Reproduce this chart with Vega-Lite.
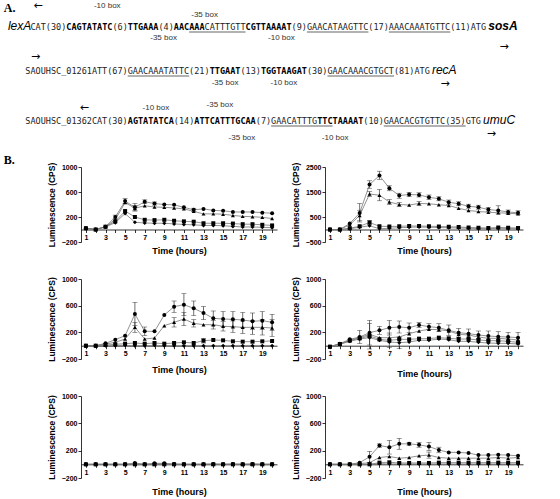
{
 "$schema": "https://vega.github.io/schema/vega-lite/v6.json",
 "padding": {"left": 3, "top": 0, "right": 5, "bottom": 0},
 "background": "white",
 "config": {
  "view": {"stroke": null},
  "font": "Liberation Sans",
  "axis": {"grid": false, "domainColor": "#000", "tickColor": "#000", "labelColor": "#000", "titleColor": "#000", "labelFont": "Liberation Sans", "titleFont": "Liberation Sans", "labelFontSize": 7, "labelFontWeight": "bold", "titleFontSize": 9, "titleFontWeight": "bold", "tickSize": 3, "labelPadding": 1, "domainWidth": 0.8, "tickWidth": 0.8},
  "axisY": {"titleFontSize": 8.5, "titlePadding": 5, "format": "d"},
  "axisX": {"labelOverlap": false, "labelFlush": false}
 },
 "datasets": {
  "seq": [
   {"k":"h","c":-1.2,"r":0.8,"txt":"A."},
   {"k":"h","c":-1.2,"r":16.0,"txt":"B."},
   {"k":"a","c":5.5,"r":0.6,"txt":"←"},
   {"k":"a","c":96.5,"r":4.7,"txt":"→"},
   {"k":"a","c":5,"r":5.7,"txt":"→"},
   {"k":"a","c":85,"r":8.4,"txt":"→"},
   {"k":"a","c":14.5,"r":10.8,"txt":"←"},
   {"k":"a","c":94,"r":13.4,"txt":"→"},
   {"k":"l","c":19,"r":0.6,"txt":"-10 box"},
   {"k":"l","c":38,"r":1.5,"txt":"-35 box"},
   {"k":"l","c":30,"r":3.75,"txt":"-35 box"},
   {"k":"l","c":53,"r":3.75,"txt":"-10 box"},
   {"k":"l","c":42,"r":8.3,"txt":"-35 box"},
   {"k":"l","c":53.5,"r":8.3,"txt":"-10 box"},
   {"k":"l","c":28.5,"r":10.8,"txt":"-10 box"},
   {"k":"l","c":41,"r":10.5,"txt":"-35 box"},
   {"k":"l","c":45.3,"r":13.8,"txt":"-35 box"},
   {"k":"l","c":63.5,"r":13.8,"txt":"-10 box"},
   {"k":"g","c":-0.4,"r":3.0,"txt":"lexA"},
   {"k":"n","c":4,"r":3.0,"txt":"CAT(30)"},
   {"k":"b","c":11,"r":3.0,"txt":"CAGTATATC"},
   {"k":"n","c":20,"r":3.0,"txt":"(6)"},
   {"k":"b","c":23,"r":3.0,"txt":"TTGAAA"},
   {"k":"n","c":29,"r":3.0,"txt":"(4)"},
   {"k":"b","c":32,"r":3.0,"txt":"AACAAA"},
   {"k":"n","c":38,"r":3.0,"txt":"CATTTGTT"},
   {"k":"b","c":46,"r":3.0,"txt":"CGTTAAAAT"},
   {"k":"n","c":55,"r":3.0,"txt":"(9)GAACATAAGTTC(17)AAACAAATGTTC(11)ATG"},
   {"k":"gb","c":93.4,"r":3.0,"txt":"sosA"},
   {"k":"u","c":35,"c2":46,"r":3.0},
   {"k":"u","c":58,"c2":70,"r":3.0},
   {"k":"u","c":74,"c2":86,"r":3.0},
   {"k":"n","c":3,"r":7.4,"txt":"SAOUHSC_01261ATT(67)GAACAAATATTC(21)"},
   {"k":"b","c":39,"r":7.4,"txt":"TTGAAT"},
   {"k":"n","c":45,"r":7.4,"txt":"(13)"},
   {"k":"b","c":49,"r":7.4,"txt":"TGGTAAGAT"},
   {"k":"n","c":58,"r":7.4,"txt":"(30)GAACAAACGTGCT(81)ATG"},
   {"k":"g","c":82.4,"r":7.4,"txt":"recA"},
   {"k":"u","c":23,"c2":35,"r":7.4},
   {"k":"u","c":62,"c2":75,"r":7.4},
   {"k":"n","c":3,"r":12.4,"txt":"SAOUHSC_01362CAT(30)"},
   {"k":"b","c":23,"r":12.4,"txt":"AGTATATCA"},
   {"k":"n","c":32,"r":12.4,"txt":"(14)"},
   {"k":"b","c":36,"r":12.4,"txt":"ATTCATTTGCAA"},
   {"k":"n","c":48,"r":12.4,"txt":"(7)GAACATTTG"},
   {"k":"b","c":60,"r":12.4,"txt":"TTCTAAAAT"},
   {"k":"n","c":69,"r":12.4,"txt":"(10)GAACACGTGTTC(35)GTG"},
   {"k":"g","c":92.4,"r":12.4,"txt":"umuC"},
   {"k":"u","c":51,"c2":63,"r":12.4},
   {"k":"u","c":73,"c2":89,"r":12.4}
  ],
  "d": [
   {"p":"lexA","t":1,"a":20,"b":20,"c":20,"d":20},
   {"p":"lexA","t":2,"a":0,"b":0,"c":0,"d":0},
   {"p":"lexA","t":3,"a":45,"b":45,"c":45,"d":40},
   {"p":"lexA","t":4,"a":200,"b":160,"c":130,"d":110},
   {"p":"lexA","t":5,"a":455,"b":430,"c":295,"d":255},
   {"p":"lexA","t":6,"a":355,"b":340,"c":200,"d":115},
   {"p":"lexA","t":7,"a":445,"b":380,"c":155,"d":105},
   {"p":"lexA","t":8,"a":415,"b":360,"c":150,"d":100},
   {"p":"lexA","t":9,"a":400,"b":355,"c":155,"d":100},
   {"p":"lexA","t":10,"a":395,"b":345,"c":140,"d":90},
   {"p":"lexA","t":11,"a":355,"b":330,"c":130,"d":80},
   {"p":"lexA","t":12,"a":315,"b":290,"c":125,"d":75},
   {"p":"lexA","t":13,"a":330,"b":250,"c":100,"d":65},
   {"p":"lexA","t":14,"a":305,"b":250,"c":100,"d":65},
   {"p":"lexA","t":15,"a":300,"b":245,"c":100,"d":60},
   {"p":"lexA","t":16,"a":280,"b":225,"c":95,"d":50},
   {"p":"lexA","t":17,"a":280,"b":210,"c":85,"d":40},
   {"p":"lexA","t":18,"a":280,"b":205,"c":85,"d":40},
   {"p":"lexA","t":19,"a":270,"b":195,"c":75,"d":35},
   {"p":"lexA","t":20,"a":260,"b":175,"c":65,"d":30},
   {"p":"recA","t":1,"a":0,"b":0,"c":0,"d":0},
   {"p":"recA","t":2,"a":0,"b":0,"c":0,"d":0},
   {"p":"recA","t":3,"a":240,"b":190,"c":50,"d":30},
   {"p":"recA","t":4,"a":660,"b":560,"c":130,"d":90},
   {"p":"recA","t":5,"a":1800,"b":1420,"c":280,"d":150},
   {"p":"recA","t":6,"a":2160,"b":1370,"c":130,"d":30},
   {"p":"recA","t":7,"a":1650,"b":1100,"c":120,"d":50},
   {"p":"recA","t":8,"a":1360,"b":1000,"c":130,"d":70},
   {"p":"recA","t":9,"a":1400,"b":980,"c":140,"d":90},
   {"p":"recA","t":10,"a":1385,"b":1040,"c":140,"d":100},
   {"p":"recA","t":11,"a":1290,"b":1030,"c":130,"d":90},
   {"p":"recA","t":12,"a":1230,"b":990,"c":120,"d":80},
   {"p":"recA","t":13,"a":1090,"b":960,"c":110,"d":70},
   {"p":"recA","t":14,"a":1030,"b":850,"c":100,"d":60},
   {"p":"recA","t":15,"a":930,"b":760,"c":80,"d":50},
   {"p":"recA","t":16,"a":890,"b":720,"c":70,"d":40},
   {"p":"recA","t":17,"a":800,"b":690,"c":60,"d":30},
   {"p":"recA","t":18,"a":760,"b":670,"c":80,"d":50},
   {"p":"recA","t":19,"a":700,"b":650,"c":70,"d":40},
   {"p":"recA","t":20,"a":670,"b":630,"c":60,"d":30},
   {"p":"sosA","t":1,"a":0,"b":0,"c":0,"d":0},
   {"p":"sosA","t":2,"a":0,"b":0,"c":0,"d":0},
   {"p":"sosA","t":3,"a":35,"b":25,"c":10,"d":0},
   {"p":"sosA","t":4,"a":90,"b":50,"c":20,"d":0},
   {"p":"sosA","t":5,"a":150,"b":100,"c":30,"d":5},
   {"p":"sosA","t":6,"a":475,"b":275,"c":40,"d":0},
   {"p":"sosA","t":7,"a":215,"b":100,"c":30,"d":0},
   {"p":"sosA","t":8,"a":215,"b":115,"c":40,"d":5},
   {"p":"sosA","t":9,"a":460,"b":300,"c":30,"d":0},
   {"p":"sosA","t":10,"a":585,"b":350,"c":40,"d":0},
   {"p":"sosA","t":11,"a":615,"b":400,"c":50,"d":0},
   {"p":"sosA","t":12,"a":560,"b":335,"c":40,"d":0},
   {"p":"sosA","t":13,"a":490,"b":315,"c":75,"d":0},
   {"p":"sosA","t":14,"a":410,"b":315,"c":85,"d":0},
   {"p":"sosA","t":15,"a":400,"b":290,"c":80,"d":0},
   {"p":"sosA","t":16,"a":395,"b":285,"c":65,"d":0},
   {"p":"sosA","t":17,"a":385,"b":275,"c":60,"d":0},
   {"p":"sosA","t":18,"a":365,"b":275,"c":60,"d":0},
   {"p":"sosA","t":19,"a":375,"b":275,"c":65,"d":0},
   {"p":"sosA","t":20,"a":350,"b":265,"c":70,"d":0},
   {"p":"recF","t":1,"a":-15,"b":-15,"c":-15,"d":-15},
   {"p":"recF","t":2,"a":30,"b":25,"c":25,"d":20},
   {"p":"recF","t":3,"a":95,"b":80,"c":75,"d":65},
   {"p":"recF","t":4,"a":130,"b":120,"c":110,"d":100},
   {"p":"recF","t":5,"a":195,"b":170,"c":145,"d":120},
   {"p":"recF","t":6,"a":230,"b":120,"c":95,"d":80},
   {"p":"recF","t":7,"a":270,"b":120,"c":80,"d":55},
   {"p":"recF","t":8,"a":280,"b":130,"c":95,"d":45},
   {"p":"recF","t":9,"a":270,"b":180,"c":95,"d":55},
   {"p":"recF","t":10,"a":310,"b":220,"c":105,"d":80},
   {"p":"recF","t":11,"a":285,"b":245,"c":105,"d":80},
   {"p":"recF","t":12,"a":270,"b":240,"c":120,"d":100},
   {"p":"recF","t":13,"a":230,"b":220,"c":110,"d":90},
   {"p":"recF","t":14,"a":195,"b":170,"c":100,"d":65},
   {"p":"recF","t":15,"a":180,"b":160,"c":100,"d":65},
   {"p":"recF","t":16,"a":160,"b":130,"c":85,"d":50},
   {"p":"recF","t":17,"a":145,"b":110,"c":75,"d":40},
   {"p":"recF","t":18,"a":135,"b":110,"c":75,"d":35},
   {"p":"recF","t":19,"a":130,"b":100,"c":65,"d":35},
   {"p":"recF","t":20,"a":120,"b":85,"c":50,"d":25},
   {"p":"dinB","t":1,"a":0,"b":0,"c":0,"d":0},
   {"p":"dinB","t":2,"a":0,"b":0,"c":0,"d":0},
   {"p":"dinB","t":3,"a":0,"b":0,"c":0,"d":0},
   {"p":"dinB","t":4,"a":0,"b":0,"c":0,"d":0},
   {"p":"dinB","t":5,"a":0,"b":0,"c":0,"d":0},
   {"p":"dinB","t":6,"a":20,"b":5,"c":0,"d":0},
   {"p":"dinB","t":7,"a":0,"b":0,"c":0,"d":0},
   {"p":"dinB","t":8,"a":15,"b":5,"c":0,"d":0},
   {"p":"dinB","t":9,"a":15,"b":5,"c":0,"d":0},
   {"p":"dinB","t":10,"a":5,"b":0,"c":0,"d":0},
   {"p":"dinB","t":11,"a":0,"b":0,"c":0,"d":0},
   {"p":"dinB","t":12,"a":0,"b":0,"c":0,"d":0},
   {"p":"dinB","t":13,"a":0,"b":0,"c":0,"d":0},
   {"p":"dinB","t":14,"a":5,"b":0,"c":0,"d":0},
   {"p":"dinB","t":15,"a":0,"b":0,"c":0,"d":0},
   {"p":"dinB","t":16,"a":5,"b":0,"c":0,"d":0},
   {"p":"dinB","t":17,"a":0,"b":0,"c":0,"d":0},
   {"p":"dinB","t":18,"a":5,"b":0,"c":0,"d":0},
   {"p":"dinB","t":19,"a":0,"b":0,"c":0,"d":0},
   {"p":"dinB","t":20,"a":0,"b":0,"c":0,"d":0},
   {"p":"umuC","t":1,"a":0,"b":0,"c":0,"d":0},
   {"p":"umuC","t":2,"a":0,"b":0,"c":0,"d":0},
   {"p":"umuC","t":3,"a":0,"b":0,"c":0,"d":0},
   {"p":"umuC","t":4,"a":25,"b":10,"c":0,"d":0},
   {"p":"umuC","t":5,"a":110,"b":25,"c":0,"d":0},
   {"p":"umuC","t":6,"a":275,"b":100,"c":25,"d":10},
   {"p":"umuC","t":7,"a":250,"b":115,"c":30,"d":5},
   {"p":"umuC","t":8,"a":300,"b":90,"c":20,"d":5},
   {"p":"umuC","t":9,"a":300,"b":100,"c":20,"d":5},
   {"p":"umuC","t":10,"a":285,"b":125,"c":20,"d":5},
   {"p":"umuC","t":11,"a":260,"b":135,"c":20,"d":5},
   {"p":"umuC","t":12,"a":210,"b":100,"c":25,"d":5},
   {"p":"umuC","t":13,"a":175,"b":90,"c":25,"d":5},
   {"p":"umuC","t":14,"a":175,"b":90,"c":25,"d":5},
   {"p":"umuC","t":15,"a":165,"b":90,"c":25,"d":5},
   {"p":"umuC","t":16,"a":135,"b":90,"c":25,"d":5},
   {"p":"umuC","t":17,"a":135,"b":90,"c":25,"d":5},
   {"p":"umuC","t":18,"a":140,"b":100,"c":25,"d":5},
   {"p":"umuC","t":19,"a":135,"b":90,"c":25,"d":5},
   {"p":"umuC","t":20,"a":125,"b":100,"c":25,"d":5}
  ],
  "e": [
   {"p":"lexA","t":4,"lo":170,"hi":230},
   {"p":"lexA","t":5,"lo":415,"hi":495},
   {"p":"lexA","t":6,"lo":295,"hi":415},
   {"p":"lexA","t":6,"lo":300,"hi":380},
   {"p":"lexA","t":7,"lo":415,"hi":475},
   {"p":"lexA","t":8,"lo":390,"hi":440},
   {"p":"lexA","t":12,"lo":290,"hi":340},
   {"p":"recA","t":4,"lo":300,"hi":1040},
   {"p":"recA","t":5,"lo":1650,"hi":1950},
   {"p":"recA","t":6,"lo":2000,"hi":2330},
   {"p":"recA","t":7,"lo":1550,"hi":1750},
   {"p":"recA","t":8,"lo":1250,"hi":1450},
   {"p":"recA","t":9,"lo":1320,"hi":1480},
   {"p":"recA","t":10,"lo":1300,"hi":1470},
   {"p":"recA","t":11,"lo":1200,"hi":1380},
   {"p":"recA","t":12,"lo":1150,"hi":1310},
   {"p":"recA","t":13,"lo":1000,"hi":1180},
   {"p":"recA","t":14,"lo":950,"hi":1110},
   {"p":"recA","t":15,"lo":850,"hi":1010},
   {"p":"recA","t":16,"lo":810,"hi":970},
   {"p":"recA","t":17,"lo":720,"hi":880},
   {"p":"recA","t":18,"lo":620,"hi":950},
   {"p":"recA","t":19,"lo":620,"hi":780},
   {"p":"recA","t":20,"lo":590,"hi":750},
   {"p":"recA","t":4,"lo":350,"hi":770},
   {"p":"recA","t":5,"lo":1320,"hi":1520},
   {"p":"recA","t":6,"lo":1150,"hi":1600},
   {"p":"recA","t":7,"lo":1000,"hi":1200},
   {"p":"recA","t":8,"lo":920,"hi":1080},
   {"p":"recA","t":10,"lo":960,"hi":1120},
   {"p":"recA","t":5,"lo":200,"hi":360},
   {"p":"sosA","t":6,"lo":300,"hi":650},
   {"p":"sosA","t":7,"lo":150,"hi":280},
   {"p":"sosA","t":10,"lo":500,"hi":670},
   {"p":"sosA","t":11,"lo":450,"hi":780},
   {"p":"sosA","t":12,"lo":450,"hi":670},
   {"p":"sosA","t":13,"lo":390,"hi":590},
   {"p":"sosA","t":14,"lo":300,"hi":520},
   {"p":"sosA","t":15,"lo":290,"hi":510},
   {"p":"sosA","t":16,"lo":280,"hi":510},
   {"p":"sosA","t":17,"lo":270,"hi":500},
   {"p":"sosA","t":18,"lo":240,"hi":490},
   {"p":"sosA","t":19,"lo":240,"hi":510},
   {"p":"sosA","t":20,"lo":230,"hi":470},
   {"p":"sosA","t":6,"lo":200,"hi":350},
   {"p":"sosA","t":10,"lo":280,"hi":420},
   {"p":"sosA","t":11,"lo":300,"hi":500},
   {"p":"sosA","t":12,"lo":280,"hi":390},
   {"p":"sosA","t":14,"lo":250,"hi":380},
   {"p":"sosA","t":15,"lo":220,"hi":360},
   {"p":"sosA","t":16,"lo":200,"hi":370},
   {"p":"sosA","t":17,"lo":180,"hi":370},
   {"p":"sosA","t":18,"lo":170,"hi":380},
   {"p":"sosA","t":19,"lo":160,"hi":390},
   {"p":"sosA","t":20,"lo":140,"hi":390},
   {"p":"sosA","t":13,"lo":40,"hi":110},
   {"p":"recF","t":4,"lo":30,"hi":230},
   {"p":"recF","t":5,"lo":10,"hi":380},
   {"p":"recF","t":5,"lo":-50,"hi":330},
   {"p":"recF","t":6,"lo":170,"hi":290},
   {"p":"recF","t":7,"lo":160,"hi":380},
   {"p":"recF","t":7,"lo":-30,"hi":190},
   {"p":"recF","t":8,"lo":190,"hi":370},
   {"p":"recF","t":8,"lo":-40,"hi":130},
   {"p":"recF","t":9,"lo":200,"hi":340},
   {"p":"recF","t":10,"lo":270,"hi":350},
   {"p":"recF","t":11,"lo":240,"hi":330},
   {"p":"recF","t":12,"lo":210,"hi":330},
   {"p":"recF","t":13,"lo":150,"hi":310},
   {"p":"recF","t":14,"lo":130,"hi":260},
   {"p":"recF","t":15,"lo":110,"hi":250},
   {"p":"recF","t":16,"lo":100,"hi":220},
   {"p":"recF","t":17,"lo":70,"hi":220},
   {"p":"recF","t":18,"lo":60,"hi":210},
   {"p":"recF","t":19,"lo":60,"hi":200},
   {"p":"recF","t":20,"lo":40,"hi":200},
   {"p":"umuC","t":5,"lo":30,"hi":190},
   {"p":"umuC","t":6,"lo":250,"hi":300},
   {"p":"umuC","t":7,"lo":150,"hi":350},
   {"p":"umuC","t":8,"lo":220,"hi":380},
   {"p":"umuC","t":9,"lo":280,"hi":320},
   {"p":"umuC","t":10,"lo":250,"hi":320},
   {"p":"umuC","t":11,"lo":200,"hi":320},
   {"p":"umuC","t":12,"lo":170,"hi":250},
   {"p":"umuC","t":11,"lo":90,"hi":180}
  ]
 },
 "columns": 2,
 "spacing": {"row": 37, "column": 48},
 "bounds": "flush",
 "align": "each",
 "concat": [
  {
   "width": 196, "height": 75,
   "resolve": {"scale": {"x": "independent", "y": "independent"}},
   "layer": [
    {
     "data": {"name": "seq"},
     "encoding": {
      "x": {"field": "c", "type": "quantitative", "scale": {"domain": [0, 100], "range": [-71, 441], "nice": false, "zero": false}, "axis": null},
      "y": {"field": "r", "type": "quantitative", "scale": {"domain": [0, 16], "range": [-167, -7], "nice": false, "zero": false}, "axis": null}
     },
     "layer": [
      {"transform": [{"filter": "datum.k == 'n'"}], "mark": {"type": "text", "font": "DejaVu Sans Mono", "fontSize": 8.5, "align": "left", "baseline": "alphabetic", "color": "#222"}, "encoding": {"text": {"field": "txt", "type": "nominal"}}},
      {"transform": [{"filter": "datum.k == 'b'"}], "mark": {"type": "text", "font": "DejaVu Sans Mono", "fontSize": 8.5, "fontWeight": "bold", "align": "left", "baseline": "alphabetic", "color": "#000"}, "encoding": {"text": {"field": "txt", "type": "nominal"}}},
      {"transform": [{"filter": "datum.k == 'g'"}], "mark": {"type": "text", "font": "Liberation Sans", "fontSize": 12, "fontStyle": "italic", "align": "left", "baseline": "alphabetic", "color": "#000"}, "encoding": {"text": {"field": "txt", "type": "nominal"}}},
      {"transform": [{"filter": "datum.k == 'gb'"}], "mark": {"type": "text", "font": "Liberation Sans", "fontSize": 12, "fontStyle": "italic", "fontWeight": "bold", "align": "left", "baseline": "alphabetic", "color": "#000"}, "encoding": {"text": {"field": "txt", "type": "nominal"}}},
      {"transform": [{"filter": "datum.k == 'l'"}], "mark": {"type": "text", "font": "Liberation Sans", "fontSize": 8, "align": "center", "baseline": "middle", "color": "#333"}, "encoding": {"text": {"field": "txt", "type": "nominal"}}},
      {"transform": [{"filter": "datum.k == 'a'"}], "mark": {"type": "text", "font": "DejaVu Sans", "fontSize": 11, "align": "center", "baseline": "middle", "color": "#000"}, "encoding": {"text": {"field": "txt", "type": "nominal"}}},
      {"transform": [{"filter": "datum.k == 'h'"}], "mark": {"type": "text", "font": "Liberation Serif", "fontSize": 12, "fontWeight": "bold", "align": "left", "baseline": "middle", "color": "#000"}, "encoding": {"text": {"field": "txt", "type": "nominal"}}},
      {"transform": [{"filter": "datum.k == 'u'"}], "mark": {"type": "rule", "color": "#222", "strokeWidth": 0.7, "yOffset": 2}, "encoding": {"x2": {"field": "c2"}}}
     ]
    },
    {
     "encoding": {
      "x": {"field": "t", "type": "quantitative", "title": "Time (hours)", "scale": {"domain": [0.5, 20.5], "nice": false, "zero": false}, "axis": {"values": [1,2,3,4,5,6,7,8,9,10,11,12,13,14,15,16,17,18,19,20], "labelExpr": "datum.value % 2 == 1 ? datum.label : ''", "offset": -12.5, "titlePadding": 6}},
      "y": {"field": "v", "type": "quantitative", "title": "Luminescence (CPS)", "scale": {"domain": [-200, 1000], "nice": false, "zero": false}, "axis": {"values": [-200, 200, 600, 1000]}}
     },
     "layer": [
      {"data": {"name": "d"}, "transform": [{"filter": "datum.p == 'lexA'"}, {"fold": ["a","b","c","d"], "as": ["s","v"]}], "mark": {"type": "line", "color": "#777", "strokeWidth": 0.8}, "encoding": {"detail": {"field": "s"}}},
      {"data": {"name": "e"}, "transform": [{"filter": "datum.p == 'lexA'"}], "mark": {"type": "errorbar", "ticks": true, "color": "#333", "thickness": 0.7}, "encoding": {"y": {"field": "lo", "type": "quantitative", "title": "Luminescence (CPS)"}, "y2": {"field": "hi"}}},
      {"data": {"name": "d"}, "transform": [{"filter": "datum.p == 'lexA'"}, {"fold": ["a","b","c","d"], "as": ["s","v"]}], "mark": {"type": "point", "filled": true, "color": "#000", "opacity": 1, "size": 16}, "encoding": {"shape": {"field": "s", "type": "nominal", "scale": {"domain": ["a","b","c","d"], "range": ["circle","triangle-up","square","diamond"]}, "legend": null}}},
      {"data": {"values": [{}]}, "mark": {"type": "text", "fontStyle": "italic", "fontSize": 9, "align": "left", "baseline": "middle", "color": "#000"}, "encoding": {"x": {"datum": 0.8}, "y": {"datum": 860}, "text": {"value": "lexA-lux"}}}
     ]
    }
   ]
  },
  {
   "width": 198, "height": 75,
   "encoding": {
    "x": {"field": "t", "type": "quantitative", "title": "Time (hours)", "scale": {"domain": [0.5, 20.5], "nice": false, "zero": false}, "axis": {"values": [1,2,3,4,5,6,7,8,9,10,11,12,13,14,15,16,17,18,19,20], "labelExpr": "datum.value % 2 == 1 ? datum.label : ''", "offset": -12.5, "titlePadding": 6}},
    "y": {"field": "v", "type": "quantitative", "title": "Luminescence (CPS)", "scale": {"domain": [-500, 2500], "nice": false, "zero": false}, "axis": {"values": [-500, 500, 1500, 2500]}}
   },
   "layer": [
    {"data": {"name": "d"}, "transform": [{"filter": "datum.p == 'recA'"}, {"fold": ["a","b","c","d"], "as": ["s","v"]}], "mark": {"type": "line", "color": "#777", "strokeWidth": 0.8}, "encoding": {"detail": {"field": "s"}}},
    {"data": {"name": "e"}, "transform": [{"filter": "datum.p == 'recA'"}], "mark": {"type": "errorbar", "ticks": true, "color": "#333", "thickness": 0.7}, "encoding": {"y": {"field": "lo", "type": "quantitative", "title": "Luminescence (CPS)"}, "y2": {"field": "hi"}}},
    {"data": {"name": "d"}, "transform": [{"filter": "datum.p == 'recA'"}, {"fold": ["a","b","c","d"], "as": ["s","v"]}], "mark": {"type": "point", "filled": true, "color": "#000", "opacity": 1, "size": 16}, "encoding": {"shape": {"field": "s", "type": "nominal", "scale": {"domain": ["a","b","c","d"], "range": ["circle","triangle-up","square","diamond"]}, "legend": null}}},
    {"data": {"values": [{}]}, "mark": {"type": "text", "fontStyle": "italic", "fontSize": 9, "align": "left", "baseline": "middle", "color": "#000"}, "encoding": {"x": {"datum": 0.9}, "y": {"datum": 2180}, "text": {"value": "recA-lux"}}}
   ]
  },
  {
   "width": 196, "height": 80,
   "encoding": {
    "x": {"field": "t", "type": "quantitative", "title": "Time (hours)", "scale": {"domain": [0.5, 20.5], "nice": false, "zero": false}, "axis": {"values": [1,2,3,4,5,6,7,8,9,10,11,12,13,14,15,16,17,18,19,20], "labelExpr": "datum.value % 2 == 1 ? datum.label : ''", "offset": -13.3, "titlePadding": 9}},
    "y": {"field": "v", "type": "quantitative", "title": "Luminescence (CPS)", "scale": {"domain": [-200, 1000], "nice": false, "zero": false}, "axis": {"values": [-200, 200, 600, 1000]}}
   },
   "layer": [
    {"data": {"name": "d"}, "transform": [{"filter": "datum.p == 'sosA'"}, {"fold": ["a","b","c","d"], "as": ["s","v"]}], "mark": {"type": "line", "color": "#777", "strokeWidth": 0.8}, "encoding": {"detail": {"field": "s"}}},
    {"data": {"name": "e"}, "transform": [{"filter": "datum.p == 'sosA'"}], "mark": {"type": "errorbar", "ticks": true, "color": "#333", "thickness": 0.7}, "encoding": {"y": {"field": "lo", "type": "quantitative", "title": "Luminescence (CPS)"}, "y2": {"field": "hi"}}},
    {"data": {"name": "d"}, "transform": [{"filter": "datum.p == 'sosA'"}, {"fold": ["a","b","c","d"], "as": ["s","v"]}], "mark": {"type": "point", "filled": true, "color": "#000", "opacity": 1, "size": 16}, "encoding": {"shape": {"field": "s", "type": "nominal", "scale": {"domain": ["a","b","c","d"], "range": ["circle","triangle-up","square","diamond"]}, "legend": null}}},
    {"data": {"values": [{}]}, "mark": {"type": "text", "fontStyle": "italic", "fontSize": 9, "align": "left", "baseline": "middle", "color": "#000"}, "encoding": {"x": {"datum": 0.8}, "y": {"datum": 895}, "text": {"value": "sosA-lux"}}}
   ]
  },
  {
   "width": 198, "height": 80,
   "encoding": {
    "x": {"field": "t", "type": "quantitative", "title": "Time (hours)", "scale": {"domain": [0.5, 20.5], "nice": false, "zero": false}, "axis": {"values": [1,2,3,4,5,6,7,8,9,10,11,12,13,14,15,16,17,18,19,20], "labelExpr": "datum.value % 2 == 1 ? datum.label : ''", "offset": -13.3, "titlePadding": 13}},
    "y": {"field": "v", "type": "quantitative", "title": "Luminescence (CPS)", "scale": {"domain": [-200, 1000], "nice": false, "zero": false}, "axis": {"values": [-200, 200, 600, 1000]}}
   },
   "layer": [
    {"data": {"name": "d"}, "transform": [{"filter": "datum.p == 'recF'"}, {"fold": ["a","b","c","d"], "as": ["s","v"]}], "mark": {"type": "line", "color": "#777", "strokeWidth": 0.8}, "encoding": {"detail": {"field": "s"}}},
    {"data": {"name": "e"}, "transform": [{"filter": "datum.p == 'recF'"}], "mark": {"type": "errorbar", "ticks": true, "color": "#333", "thickness": 0.7}, "encoding": {"y": {"field": "lo", "type": "quantitative", "title": "Luminescence (CPS)"}, "y2": {"field": "hi"}}},
    {"data": {"name": "d"}, "transform": [{"filter": "datum.p == 'recF'"}, {"fold": ["a","b","c","d"], "as": ["s","v"]}], "mark": {"type": "point", "filled": true, "color": "#000", "opacity": 1, "size": 16}, "encoding": {"shape": {"field": "s", "type": "nominal", "scale": {"domain": ["a","b","c","d"], "range": ["circle","triangle-up","square","diamond"]}, "legend": null}}},
    {"data": {"values": [{}]}, "mark": {"type": "text", "fontStyle": "italic", "fontSize": 9, "align": "left", "baseline": "middle", "color": "#000"}, "encoding": {"x": {"datum": 0.9}, "y": {"datum": 880}, "text": {"value": "recF-lux"}}}
   ]
  },
  {
   "width": 196, "height": 82,
   "encoding": {
    "x": {"field": "t", "type": "quantitative", "title": "Time (hours)", "scale": {"domain": [0.5, 20.5], "nice": false, "zero": false}, "axis": {"values": [1,2,3,4,5,6,7,8,9,10,11,12,13,14,15,16,17,18,19,20], "labelExpr": "datum.value % 2 == 1 ? datum.label : ''", "offset": -13.7, "titlePadding": 12}},
    "y": {"field": "v", "type": "quantitative", "title": "Luminescence (CPS)", "scale": {"domain": [-200, 1000], "nice": false, "zero": false}, "axis": {"values": [-200, 200, 600, 1000]}}
   },
   "layer": [
    {"data": {"name": "d"}, "transform": [{"filter": "datum.p == 'dinB'"}, {"fold": ["a","b","c","d"], "as": ["s","v"]}], "mark": {"type": "line", "color": "#777", "strokeWidth": 0.8}, "encoding": {"detail": {"field": "s"}}},
    {"data": {"name": "d"}, "transform": [{"filter": "datum.p == 'dinB'"}, {"fold": ["a","b","c","d"], "as": ["s","v"]}], "mark": {"type": "point", "filled": true, "color": "#000", "opacity": 1, "size": 16}, "encoding": {"shape": {"field": "s", "type": "nominal", "scale": {"domain": ["a","b","c","d"], "range": ["circle","triangle-up","square","diamond"]}, "legend": null}}},
    {"data": {"values": [{}]}, "mark": {"type": "text", "fontStyle": "italic", "fontSize": 9, "align": "left", "baseline": "middle", "color": "#000"}, "encoding": {"x": {"datum": 1.0}, "y": {"datum": 898}, "text": {"value": "dinB-lux"}}}
   ]
  },
  {
   "width": 198, "height": 82,
   "encoding": {
    "x": {"field": "t", "type": "quantitative", "title": "Time (hours)", "scale": {"domain": [0.5, 20.5], "nice": false, "zero": false}, "axis": {"values": [1,2,3,4,5,6,7,8,9,10,11,12,13,14,15,16,17,18,19,20], "labelExpr": "datum.value % 2 == 1 ? datum.label : ''", "offset": -13.7, "titlePadding": 12}},
    "y": {"field": "v", "type": "quantitative", "title": "Luminescence (CPS)", "scale": {"domain": [-200, 1000], "nice": false, "zero": false}, "axis": {"values": [-200, 200, 600, 1000]}}
   },
   "layer": [
    {"data": {"name": "d"}, "transform": [{"filter": "datum.p == 'umuC'"}, {"fold": ["a","b","c","d"], "as": ["s","v"]}], "mark": {"type": "line", "color": "#777", "strokeWidth": 0.8}, "encoding": {"detail": {"field": "s"}}},
    {"data": {"name": "e"}, "transform": [{"filter": "datum.p == 'umuC'"}], "mark": {"type": "errorbar", "ticks": true, "color": "#333", "thickness": 0.7}, "encoding": {"y": {"field": "lo", "type": "quantitative", "title": "Luminescence (CPS)"}, "y2": {"field": "hi"}}},
    {"data": {"name": "d"}, "transform": [{"filter": "datum.p == 'umuC'"}, {"fold": ["a","b","c","d"], "as": ["s","v"]}], "mark": {"type": "point", "filled": true, "color": "#000", "opacity": 1, "size": 16}, "encoding": {"shape": {"field": "s", "type": "nominal", "scale": {"domain": ["a","b","c","d"], "range": ["circle","triangle-up","square","diamond"]}, "legend": null}}},
    {"data": {"values": [{}]}, "mark": {"type": "text", "fontStyle": "italic", "fontSize": 9, "align": "left", "baseline": "middle", "color": "#000"}, "encoding": {"x": {"datum": 0.9}, "y": {"datum": 840}, "text": {"value": "umuC-lux"}}}
   ]
  }
 ]
}
